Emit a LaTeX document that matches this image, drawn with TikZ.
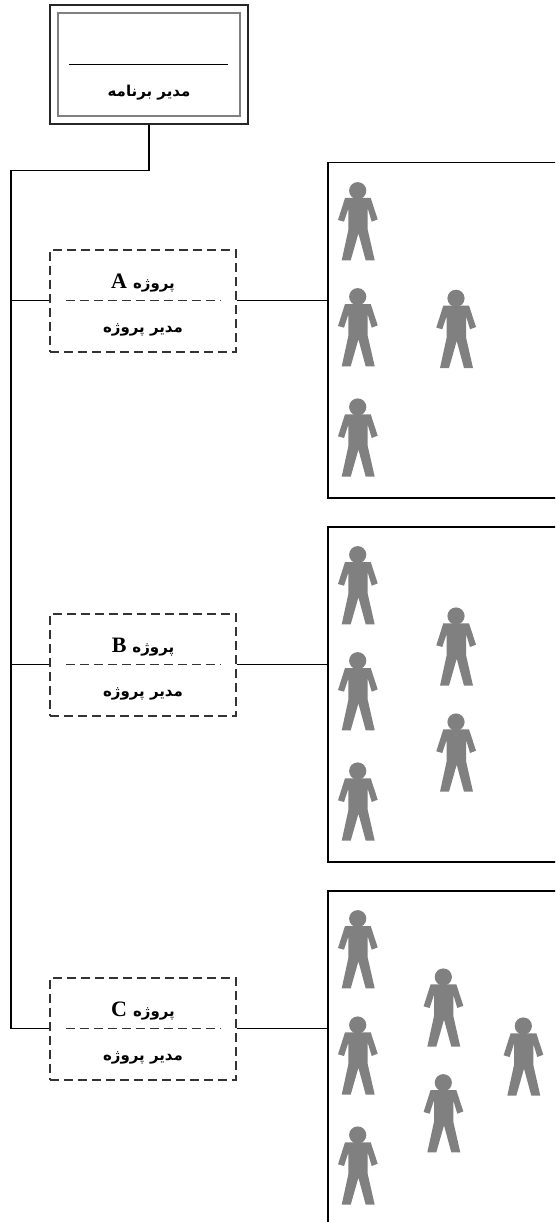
\documentclass[tikz,border=0pt]{standalone}
\usepackage{fontspec}
\setmainfont{Liberation Serif}
\newfontfamily\arabicfont[Script=Arabic]{DejaVu Sans}
\TeXXeTstate=1
\usetikzlibrary{calc}
\definecolor{persongray}{HTML}{808080}
\tikzset{
  x=1pt,y=-1pt,
  conn/.style={draw=black,line width=1.5pt},
  dashline/.style={draw=black!80,line width=1.3pt,dash pattern=on 9pt off 5pt},
  outerbox/.style={draw=black!85,line width=1.4pt,minimum width=198pt,minimum height=119pt,inner sep=0pt},
  innerbox/.style={draw=black!50,line width=1.2pt,minimum width=182pt,minimum height=103pt,inner sep=0pt},
  dashbox/.style={dashline,minimum width=186pt,minimum height=102pt,inner sep=0pt},
  teambox/.style={draw=black,line width=1.5pt,minimum width=300pt,minimum height=335pt,inner sep=0pt},
  lbl/.style={font=\fontsize{15pt}{17pt}\selectfont\bfseries,inner sep=0pt},
  person/.pic={
    \fill[persongray] (0,0) circle (8.6);
    \fill[persongray] (-12.7,7.3) -- (13,7.3) -- (20,28.7) -- (14,31) -- (10,17.7) -- (10,39) -- (17,69.7) -- (8,69.7) -- (0.7,42.7) -- (-7,69.7) -- (-16,69.7) -- (-9.3,39) -- (-9.3,17.7) -- (-13.7,31) -- (-19.7,29.3) -- cycle;
  }
}
\begin{document}
\begin{tikzpicture}
\useasboundingbox (0,0) rectangle (555,1222);
\clip (0,0) rectangle (555,1222);

% programme manager
\node[outerbox] (prog) at (149,64.5) {};
\node[innerbox] (proginner) at (149,64.5) {};
\coordinate (sigL) at (69,64.5);
\coordinate (sigR) at (228,64.5);
\draw[conn] (sigL) -- (sigR);
\node[lbl] (progtxt) at (149,93) {\arabicfont\beginR مدیر برنامه\endR};

% project boxes
\node[dashbox] (A) at (143,301) {};
\node[dashbox] (B) at (143,665) {};
\node[dashbox] (C) at (143,1029) {};
\foreach \n/\l/\y in {A/A/283,B/B/647,C/C/1011}{
  \node[lbl] (t\n) at (143,\y) {\beginR{\arabicfont پروژه}\hspace{6pt}\beginL{\fontsize{22pt}{24pt}\selectfont \l}\endL\endR};
  \node[lbl] (m\n) at (143,\y+47) {\arabicfont\beginR مدیر پروژه\endR};
  \coordinate (dl\n) at (66,\y+17.5);
  \coordinate (dr\n) at (221,\y+17.5);
  \draw[dashline] (dl\n) -- (dr\n);
}

% team boxes
\node[teambox,anchor=north west] (TA) at (327,162) {};
\node[teambox,anchor=north west] (TB) at (327,526) {};
\node[teambox,anchor=north west] (TC) at (327,890) {};

% connectors
\coordinate (bend) at (prog.south |- 0,170.5);
\coordinate (corner) at (11,170.5);
\coordinate (trunkA) at (11,300.5);
\coordinate (trunkB) at (11,664.5);
\coordinate (trunkC) at (11,1028.5);
\draw[conn] (prog.south) -- (bend) -- (corner) -- (trunkC) -- (trunkC -| C.west);
\draw[conn] (trunkA) -- (trunkA -| A.west);
\draw[conn] (trunkB) -- (trunkB -| B.west);
\draw[conn] (A.east |- trunkA) -- (trunkA -| TA.west);
\draw[conn] (B.east |- trunkB) -- (trunkB -| TB.west);
\draw[conn] (C.east |- trunkC) -- (trunkC -| TC.west);

% people
\foreach \px/\py in {357.7/190.7,357.7/296.7,357.7/407,456/298.3,
                     357.7/554.7,357.7/660.7,357.7/771,456/616,456/722,
                     357.7/918.7,357.7/1025,357.7/1135,443.3/977,443.3/1082.7,523.3/1026}{
  \pic at (\px,\py) {person};
}
\end{tikzpicture}
\end{document}
